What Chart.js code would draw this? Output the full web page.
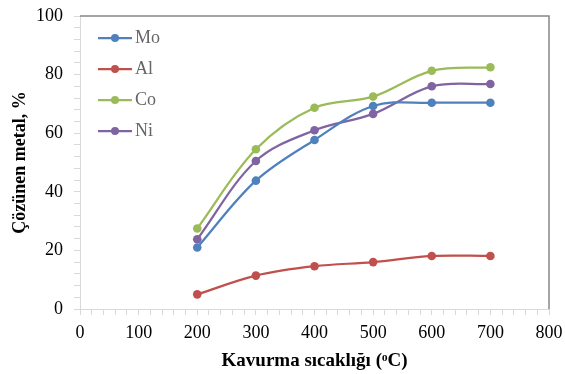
<!DOCTYPE html>
<html>
<head>
<meta charset="utf-8">
<script src="https://cdn.jsdelivr.net/npm/chart.js@4"></script>
<style>
  html, body { margin: 0; padding: 0; background: #fff; }
</style>
</head>
<body>
<canvas id="chart" width="565" height="374"></canvas>
<script>
// data
const temps = [200, 300, 400, 500, 600, 700];
const mo = [21.0, 43.8, 57.7, 69.3, 70.4, 70.4];
const al = [5.0, 11.4, 14.6, 16.0, 18.1, 18.1];
const co = [27.5, 54.5, 68.7, 72.5, 81.3, 82.5];
const ni = [23.8, 50.5, 61.0, 66.6, 76.0, 76.8];
const seriesNames = ['Mo', 'Al', 'Co', 'Ni'];
const seriesColors = ['#4f81bd', '#c0504d', '#9bbb59', '#8064a2'];
const xTickLabels = [0, 100, 200, 300, 400, 500, 600, 700, 800];
const yTickLabels = [0, 20, 40, 60, 80, 100];

const serifFont = "'Liberation Serif', 'Times New Roman', serif";
const axisGrey = '#d9d9d9';

// legend marker: short line with a dot in the middle
function legendMarker(color) {
    const c = document.createElement('canvas');
    c.width = 45;
    c.height = 12;
    const ctx = c.getContext('2d');
    ctx.strokeStyle = color;
    ctx.lineWidth = 2.25;
    ctx.beginPath();
    ctx.moveTo(11, 6);
    ctx.lineTo(45, 6);
    ctx.stroke();
    ctx.fillStyle = color;
    ctx.beginPath();
    ctx.arc(28, 6, 4, 0, Math.PI * 2);
    ctx.fill();
    return c;
}

// dark frame on top and right side of the plot
const frame = {
    id: 'frame',
    afterDraw(chart) {
        const { ctx, chartArea } = chart;
        ctx.save();
        ctx.strokeStyle = '#878787';
        ctx.lineWidth = 1.5;
        ctx.beginPath();
        ctx.moveTo(chartArea.left, chartArea.top);
        ctx.lineTo(chartArea.right, chartArea.top);
        ctx.lineTo(chartArea.right, chartArea.bottom);
        ctx.stroke();
        ctx.restore();
    }
};

const values = [mo, al, co, ni];
const datasets = values.map((vals, i) => ({
    label: seriesNames[i],
    data: temps.map((t, j) => ({ x: t, y: vals[j] })),
    borderColor: seriesColors[i],
    backgroundColor: seriesColors[i],
    borderWidth: 2.25,
    pointRadius: 4.3,
    pointBorderWidth: 0,
    tension: 0.35,
    fill: false
}));

new Chart(document.getElementById('chart'), {
    type: 'line',
    data: { datasets },
    options: {
        responsive: false,
        animation: false,
        layout: { padding: { top: 16, right: 16, bottom: 1, left: 10 } },
        scales: {
            x: {
                type: 'linear',
                min: 0,
                max: 800,
                afterFit: scale => {
                    scale.height = 64;
                    scale.paddingLeft = 0;
                    scale.paddingRight = 0;
                },
                border: { color: axisGrey },
                grid: { drawOnChartArea: false, color: axisGrey, tickLength: 6 },
                ticks: {
                    stepSize: 20,
                    autoSkip: false,
                    maxRotation: 0,
                    color: '#000',
                    padding: 7,
                    font: { family: serifFont, size: 18 },
                    callback: v => xTickLabels.includes(v) ? v : ''
                },
                title: {
                    display: true,
                    text: 'Kavurma sıcaklığı (ᵒC)',
                    color: '#000',
                    padding: { top: 0, bottom: 1 },
                    font: { family: serifFont, size: 19, weight: 'bold' }
                }
            },
            y: {
                min: 0,
                max: 100,
                afterFit: scale => {
                    scale.width = 70;
                    scale.paddingTop = 0;
                    scale.paddingBottom = 0;
                },
                border: { color: axisGrey },
                grid: { drawOnChartArea: false, color: axisGrey, tickLength: 6 },
                ticks: {
                    stepSize: 4,
                    autoSkip: false,
                    color: '#000',
                    padding: 11,
                    font: { family: serifFont, size: 18 },
                    callback: v => yTickLabels.includes(v) ? v : ''
                },
                title: {
                    display: true,
                    text: 'Çözünen metal, %',
                    color: '#000',
                    padding: { top: 0, bottom: 4 },
                    font: { family: serifFont, size: 18, weight: 'bold' }
                }
            }
        },
        plugins: {
            tooltip: { enabled: false },
            legend: {
                position: 'chartArea',
                align: 'start',
                title: {
                    display: true,
                    text: ' ',
                    font: { size: 10 },
                    padding: { top: 0, bottom: 4 }
                },
                labels: {
                    usePointStyle: true,
                    pointStyleWidth: 33,
                    padding: 13,
                    color: '#000',
                    font: { family: serifFont, size: 18 },
                    generateLabels: chart => chart.data.datasets.map((ds, i) => ({
                        text: ds.label,
                        pointStyle: legendMarker(ds.borderColor),
                        fillStyle: ds.borderColor,
                        strokeStyle: ds.borderColor,
                        lineWidth: 0,
                        hidden: false,
                        datasetIndex: i
                    }))
                }
            }
        }
    },
    plugins: [frame]
});
</script>
</body>
</html>
